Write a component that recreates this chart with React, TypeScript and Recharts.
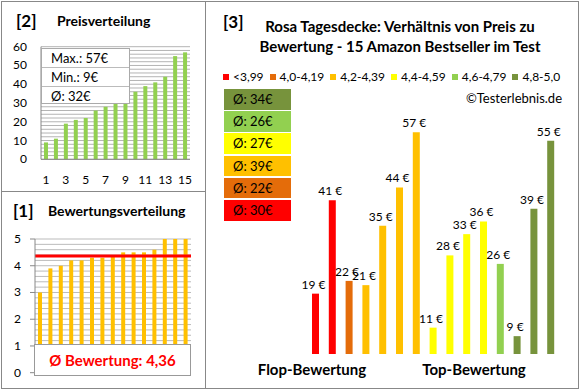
import React from 'react';
import {
  BarChart,
  Bar,
  XAxis,
  YAxis,
  CartesianGrid,
  ReferenceLine,
  LabelList,
  Cell,
} from 'recharts';

// product prices (EUR) in the order of the main chart (sorted by rating)
const prices = [19, 41, 22, 21, 35, 44, 57, 11, 28, 33, 36, 26, 9, 39, 55];
// star ratings for the same products
const ratings = [3.0, 3.9, 4.0, 4.2, 4.2, 4.3, 4.3, 4.4, 4.5, 4.5, 4.5, 4.6, 5.0, 5.0, 5.0];

const groupLabels = ['<3,99', '4,0-4,19', '4,2-4,39', '4,4-4,59', '4,6-4,79', '4,8-5,0'];
const groupColors = ['#FF0000', '#E46C0A', '#FFC000', '#FFFF00', '#92D050', '#77933C'];
const groupLimits = [4.0, 4.2, 4.4, 4.6, 4.8];

// grid every 2 € / 0.2 stars, labels on the majors only
const priceGrid = [0, 2, 4, 6, 8, 10, 12, 14, 16, 18, 20, 22, 24, 26, 28, 30, 32, 34, 36, 38, 40, 42, 44, 46, 48, 50, 52, 54, 56, 58, 60];
const ratingGrid = [0, 0.2, 0.4, 0.6, 0.8, 1, 1.2, 1.4, 1.6, 1.8, 2, 2.2, 2.4, 2.6, 2.8, 3, 3.2, 3.4, 3.6, 3.8, 4, 4.2, 4.4, 4.6, 4.8, 5];

const FONT = 'Lato, "Open Sans", sans-serif';

const groupOf = (r: number) => {
  let g = 0;
  while (g < groupLimits.length && r >= groupLimits[g] - 1e-9) g++;
  return g;
};

const mainData = prices.map((p, i) => ({ id: i + 1, price: p, group: groupOf(ratings[i]) }));
const priceData = [...prices].sort((a, b) => a - b).map((p, i) => ({ id: i + 1, price: p }));
const ratingData = [...ratings].sort((a, b) => a - b).map((r, i) => ({ id: i + 1, rating: r }));

const groupAvg = groupLabels.map((_, g) => {
  const ps = mainData.filter((d) => d.group === g).map((d) => d.price);
  return Math.round(ps.reduce((a, b) => a + b, 0) / ps.length);
});

const maxPrice = Math.max(...prices);
const minPrice = Math.min(...prices);
const avgPrice = Math.round(prices.reduce((a, b) => a + b, 0) / prices.length);
const avgRating = ratings.reduce((a, b) => a + b, 0) / ratings.length;

const abs = (left: number, top: number, extra: React.CSSProperties = {}): React.CSSProperties => ({
  position: 'absolute',
  left,
  top,
  ...extra,
});

const isMajor = (v: number, step: number) => Math.abs(v / step - Math.round(v / step)) < 1e-6;

function MajorTick(props: any) {
  const { x, y, payload, step, mark, gap } = props;
  if (!isMajor(payload.value, step)) return null;
  return (
    <g>
      {mark ? <line x1={x + gap} x2={x + gap + mark} y1={y} y2={y} stroke="#888" /> : null}
      <text x={x} y={y} dy={4} textAnchor="end" fontSize={12} fill="#000" fontFamily={FONT}>
        {payload.value}
      </text>
    </g>
  );
}

function PriceLabel(props: any) {
  const { x, y, width, value } = props;
  return (
    <text x={x + width / 2 - 2} y={y - 5} textAnchor="middle" fontSize={12} fill="#000" fontFamily={FONT}>
      {`${value} €`}
    </text>
  );
}

export default function App() {
  const tickStyle = { fontSize: 12, fill: '#000', fontFamily: FONT };
  return (
    <div
      style={{
        position: 'absolute',
        left: 0,
        top: 0,
        width: 580,
        height: 390,
        background: '#fff',
        fontFamily: FONT,
        color: '#000',
      }}
    >
      {/* frame */}
      <div style={abs(1, 1, { width: 578, height: 388, border: '1px solid #888', boxSizing: 'border-box' })} />
      <div style={abs(205, 1, { width: 1, height: 388, background: '#888' })} />
      <div style={abs(1, 191, { width: 205, height: 1, background: '#888' })} />

      {/* [2] Preisverteilung */}
      <div style={abs(16, 11, { fontSize: 17, fontWeight: 700, lineHeight: '20px' })}>[2]</div>
      <div style={abs(57, 12, { fontSize: 14, fontWeight: 700, lineHeight: '18px' })}>Preisverteilung</div>
      <div style={abs(0, 0)}>
        <BarChart width={200} height={192} data={priceData} margin={{ top: 46.7, right: 10, bottom: 2.7, left: 0 }}>
          <CartesianGrid vertical={false} stroke="#b4b4b4" />
          <XAxis
            dataKey="id"
            interval={1}
            tickLine={false}
            axisLine={{ stroke: '#888' }}
            tick={tickStyle}
            tickMargin={10}
            height={30}
          />
          <YAxis
            width={41}
            domain={[0, 60]}
            ticks={priceGrid}
            interval={0}
            tickLine={false}
            axisLine={{ stroke: '#888' }}
            tickMargin={8}
            tick={<MajorTick step={10} mark={0} gap={8} />}
          />
          <Bar dataKey="price" fill="#92D050" barSize={4} isAnimationActive={false} />
        </BarChart>
      </div>
      <div
        style={abs(41, 48, {
          width: 89,
          height: 56,
          background: '#fff',
          border: '1px solid #aaa',
          boxSizing: 'border-box',
          fontSize: 13,
        })}
      >
        {[`Max.: ${maxPrice}€`, `Min.: ${minPrice}€`, `Ø: ${avgPrice}€`].map((t, i) => (
          <div
            key={t}
            style={{
              height: 18,
              lineHeight: '18px',
              paddingLeft: 9,
              borderTop: i > 0 ? '1px solid #bbb' : 'none',
            }}
          >
            {t}
          </div>
        ))}
      </div>

      {/* [1] Bewertungsverteilung */}
      <div style={abs(13, 201, { fontSize: 17, fontWeight: 700, lineHeight: '20px' })}>[1]</div>
      <div style={abs(48, 202, { fontSize: 14, fontWeight: 700, lineHeight: '18px' })}>Bewertungsverteilung</div>
      <div style={abs(0, 194)}>
        <BarChart width={200} height={194} data={ratingData} margin={{ top: 45, right: 9, bottom: 15.3, left: 0 }}>
          <CartesianGrid vertical={false} stroke="#bbbbbb" />
          <XAxis dataKey="id" hide />
          <YAxis
            width={35}
            domain={[0, 5]}
            ticks={ratingGrid}
            interval={0}
            tickLine={false}
            tickSize={5}
            axisLine={{ stroke: '#888' }}
            tickMargin={9}
            tick={<MajorTick step={1} mark={5} gap={9} />}
          />
          <Bar dataKey="rating" fill="#FFC000" barSize={4} isAnimationActive={false} />
          <ReferenceLine y={avgRating} stroke="#FF0000" strokeWidth={3} />
        </BarChart>
      </div>
      <div
        style={abs(34, 344, {
          width: 157,
          height: 32,
          background: '#fff',
          border: '1px solid #999',
          boxSizing: 'border-box',
          color: '#FF0000',
          fontWeight: 700,
          fontSize: 15,
          lineHeight: '30px',
          textAlign: 'center',
        })}
      >
        Ø Bewertung: {avgRating.toFixed(2).replace('.', ',')}
      </div>

      {/* [3] main chart */}
      <div style={abs(223, 12, { fontSize: 17, fontWeight: 700, lineHeight: '20px' })}>[3]</div>
      <div
        style={abs(250, 16, {
          width: 300,
          textAlign: 'center',
          fontSize: 15,
          fontWeight: 700,
          lineHeight: '20px',
        })}
      >
        Rosa Tagesdecke: Verhältnis von Preis zu
        <br />
        Bewertung - 15 Amazon Bestseller im Test
      </div>
      <div style={abs(223, 68, { display: 'flex', fontSize: 12, lineHeight: '18px', whiteSpace: 'nowrap' })}>
        {groupLabels.map((l, i) => (
          <div key={l} style={{ display: 'flex', alignItems: 'center', marginRight: 6 }}>
            <span style={{ width: 6, height: 6, background: groupColors[i], marginRight: 4 }} />
            {l}
          </div>
        ))}
      </div>
      <div style={abs(400, 89, { width: 162, textAlign: 'right', fontSize: 13, lineHeight: '18px' })}>
        ©Testerlebnis.de
      </div>
      {groupAvg
        .map((a, g) => ({ a, g }))
        .reverse()
        .map(({ a, g }, i) => (
          <div
            key={g}
            style={abs(224, 89 + i * 22.2, {
              width: 67,
              height: 20.5,
              background: groupColors[g],
              fontSize: 13,
              lineHeight: '20.5px',
              paddingLeft: 9,
              boxSizing: 'border-box',
            })}
          >
            Ø: {a}€
          </div>
        ))}
      <div style={abs(287, 100)}>
        <BarChart width={292} height={254} data={mainData} margin={{ top: 0, right: 20, bottom: 0, left: 20 }}>
          <XAxis dataKey="id" hide />
          <YAxis hide domain={[4.8, 64.56]} allowDataOverflow />
          <Bar dataKey="price" barSize={7} isAnimationActive={false}>
            {mainData.map((d) => (
              <Cell key={d.id} fill={groupColors[d.group]} />
            ))}
            <LabelList dataKey="price" content={<PriceLabel />} />
          </Bar>
        </BarChart>
      </div>
      <div style={abs(252, 360, { width: 120, textAlign: 'center', fontSize: 15, fontWeight: 700, lineHeight: '18px' })}>
        Flop-Bewertung
      </div>
      <div style={abs(414, 360, { width: 120, textAlign: 'center', fontSize: 15, fontWeight: 700, lineHeight: '18px' })}>
        Top-Bewertung
      </div>
    </div>
  );
}
